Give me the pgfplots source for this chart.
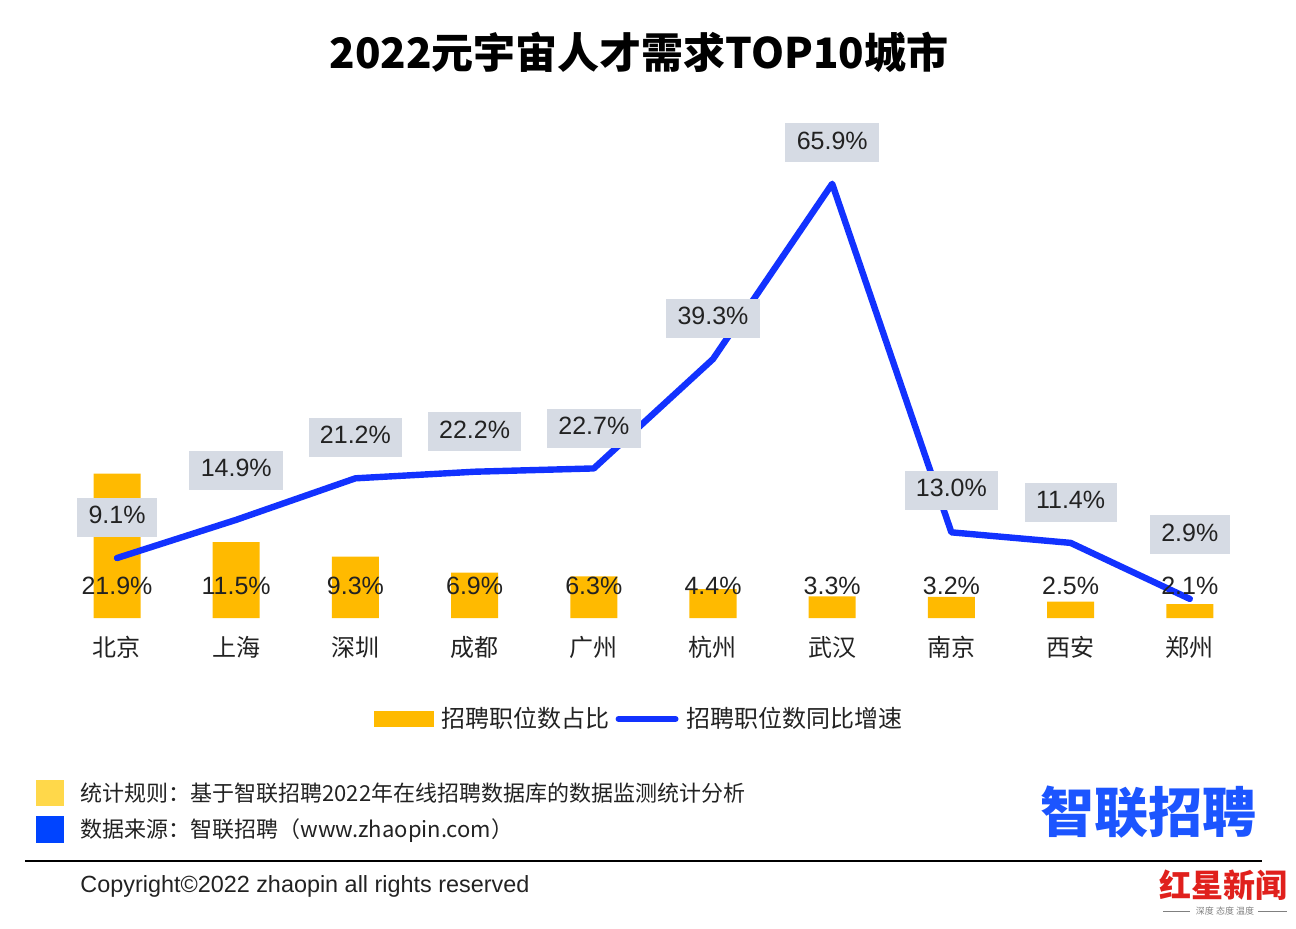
\documentclass[border=0pt]{standalone}
\usepackage{pgfplots}
\pgfplotsset{compat=1.18}
\usepackage{fontspec}
\setmainfont{Liberation Sans}
\newfontfamily\cjk{Noto Sans CJK SC}
\definecolor{barc}{HTML}{FFBA00}
\definecolor{linec}{HTML}{1232FF}
\definecolor{boxc}{HTML}{D6DBE4}
\definecolor{txt}{HTML}{222222}
\definecolor{sqy}{HTML}{FFD84A}
\definecolor{sqb}{HTML}{0044FF}
\definecolor{logo}{HTML}{1C55FF}
\definecolor{redw}{HTML}{E0201C}
\begin{document}
\begin{tikzpicture}
\path[use as bounding box] (0,0) rectangle (648pt,464pt);
\node[font=\cjk\bfseries\fontsize{21}{24}\selectfont, text=black] at (319.5pt,438pt) {2022元宇宙人才需求TOP10城市};
\begin{axis}[
  at={(28.7pt,155pt)}, anchor=south west,
  scale only axis, width=596pt, height=247.1pt,
  xmin=-0.5, xmax=9.5, ymin=0, ymax=75,
  axis line style={draw=none}, ytick=\empty,
  xtick={0,...,9}, major tick length=0pt,
  xticklabels={北京,上海,深圳,成都,广州,杭州,武汉,南京,西安,郑州},
  xticklabel style={font=\cjk\fontsize{12}{14}\selectfont, text=txt, anchor=center, yshift=-14.5pt},
  legend columns=2,
  legend style={at={(0.4888,-0.2043)}, anchor=center, draw=none, fill=none,
    font=\cjk\fontsize{12}{14}\selectfont, text=txt,
    /tikz/every odd column/.append style={column sep=2pt},
    /tikz/every even column/.append style={column sep=1pt}},
  clip=false,
]
\addplot[ybar, bar width=23.5pt, fill=barc, draw=none,
  legend image code/.code={\fill[barc] (0pt,-4pt) rectangle (30pt,4pt);}]
  coordinates {(0,21.9)(1,11.5)(2,9.3)(3,6.9)(4,6.3)(5,4.4)(6,3.3)(7,3.2)(8,2.5)(9,2.1)};
\addlegendentry{招聘职位数占比}
\addplot[linec, line width=3.2pt, line join=round, line cap=round, mark=none,
  legend image code/.code={\draw[linec, line width=3pt, line cap=round] (1.5pt,0pt) -- (30pt,0pt);}]
  coordinates {(0,9.1)(1,14.9)(2,21.2)(3,22.2)(4,22.7)(5,39.3)(6,65.9)(7,13.0)(8,11.4)(9,2.9)};
\addlegendentry{招聘职位数同比增速}
% bar value labels
\addplot[draw=none, mark=none, forget plot, point meta=explicit symbolic, nodes near coords,
  every node near coord/.append style={anchor=center, font=\fontsize{12.5}{14}\selectfont, text=txt}]
  coordinates {(0,4.86)[21.9\%] (1,4.86)[11.5\%] (2,4.86)[9.3\%] (3,4.86)[6.9\%] (4,4.86)[6.3\%]
               (5,4.86)[4.4\%] (6,4.86)[3.3\%] (7,4.86)[3.2\%] (8,4.86)[2.5\%] (9,4.86)[2.1\%]};
% line value labels
\addplot[draw=none, mark=none, forget plot, point meta=explicit symbolic, nodes near coords,
  every node near coord/.append style={anchor=center, fill=boxc, inner xsep=5.7pt, inner ysep=4pt,
    text height=9pt, text depth=2.5pt, font=\fontsize{12.5}{14}\selectfont, text=txt}]
  coordinates {(0,15.3)[9.1\%] (1,22.4)[14.9\%] (2,27.4)[21.2\%] (3,28.3)[22.2\%] (4,28.8)[22.7\%]
               (5,45.5)[39.3\%] (6,72.1)[65.9\%] (7,19.4)[13.0\%] (8,17.6)[11.4\%] (9,12.6)[2.9\%]};
\end{axis}
% footer
\fill[sqy] (18pt,61pt) rectangle (32pt,74pt);
\fill[sqb] (18pt,42.5pt) rectangle (32pt,56pt);
\node[anchor=west, font=\cjk\fontsize{11}{12}\selectfont, text=txt, inner sep=0pt] at (40pt,67.5pt) {统计规则：基于智联招聘2022年在线招聘数据库的数据监测统计分析};
\node[anchor=west, font=\cjk\fontsize{11}{12}\selectfont, text=txt, inner sep=0pt] at (40pt,48.5pt) {数据来源：智联招聘（www.zhaopin.com）};
\draw[black, line width=1pt] (12.5pt,33.5pt) -- (631pt,33.5pt);
\node[anchor=west, font=\fontsize{11.7}{13}\selectfont, text=txt, inner sep=0pt] at (40pt,21pt) {Copyright©2022 zhaopin all rights reserved};
\node[font=\cjk\bfseries\fontsize{27}{30}\selectfont, text=logo, inner sep=0pt] at (574pt,58pt) {智联招聘};
\node[font=\cjk\bfseries\fontsize{16}{18}\selectfont, text=redw, inner sep=0pt] at (611.5pt,21.5pt) {红星新闻};
\node[font=\cjk\fontsize{4.5}{5}\selectfont, text=gray, inner sep=0pt] at (612.5pt,8.5pt) {深度 态度 温度};
\draw[gray, line width=0.4pt] (581.5pt,8.5pt) -- (595pt,8.5pt) (629pt,8.5pt) -- (643.5pt,8.5pt);
\end{tikzpicture}
\end{document}
